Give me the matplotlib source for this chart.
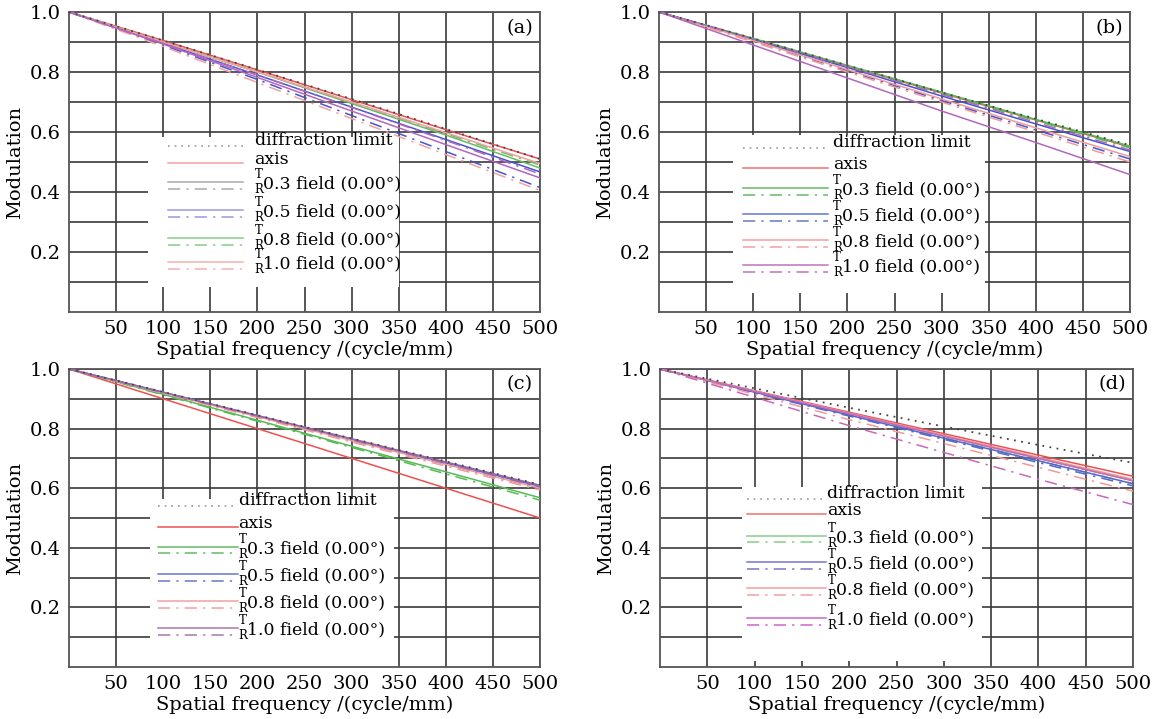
import matplotlib
matplotlib.use('Agg')
import matplotlib.pyplot as plt
from matplotlib.patches import Rectangle

plt.rcParams['font.family'] = ['DejaVu Serif']

# spatial frequency samples (cycle/mm)
freq = [0, 100, 200, 300, 400, 500]

field_names = ["0.3 field (0.00°)", "0.5 field (0.00°)", "0.8 field (0.00°)", "1.0 field (0.00°)"]

# panel (a)
a_diff = [1, 0.905, 0.808, 0.710, 0.610, 0.51]
a_axis = [1, 0.905, 0.807, 0.708, 0.608, 0.51]
a_T = [[1, 0.90, 0.80, 0.695, 0.59, 0.48],
       [1, 0.895, 0.79, 0.683, 0.575, 0.467],
       [1, 0.90, 0.80, 0.70, 0.598, 0.495],
       [1, 0.893, 0.782, 0.67, 0.558, 0.447]]
a_R = [[1, 0.90, 0.80, 0.70, 0.595, 0.49],
       [1, 0.89, 0.775, 0.655, 0.535, 0.415],
       [1, 0.885, 0.765, 0.645, 0.525, 0.405],
       [1, 0.895, 0.79, 0.682, 0.572, 0.46]]

# panel (b)
b_diff = [1, 0.912, 0.822, 0.732, 0.644, 0.556]
b_axis = [1, 0.91, 0.82, 0.73, 0.64, 0.55]
b_T = [[1, 0.912, 0.822, 0.733, 0.642, 0.553],
       [1, 0.908, 0.815, 0.72, 0.627, 0.535],
       [1, 0.905, 0.808, 0.71, 0.614, 0.518],
       [1, 0.89, 0.78, 0.67, 0.565, 0.458]]
b_R = [[1, 0.91, 0.82, 0.728, 0.638, 0.547],
       [1, 0.905, 0.805, 0.705, 0.607, 0.51],
       [1, 0.90, 0.80, 0.70, 0.60, 0.50],
       [1, 0.91, 0.818, 0.725, 0.632, 0.54]]

# panel (c)
c_diff = [1, 0.923, 0.845, 0.767, 0.69, 0.612]
c_axis = [1, 0.9, 0.8, 0.7, 0.6, 0.50]
c_T = [[1, 0.915, 0.828, 0.741, 0.655, 0.568],
       [1, 0.922, 0.843, 0.764, 0.685, 0.606],
       [1, 0.92, 0.84, 0.76, 0.68, 0.60],
       [1, 0.922, 0.844, 0.766, 0.688, 0.61]]
c_R = [[1, 0.913, 0.825, 0.737, 0.648, 0.56],
       [1, 0.92, 0.84, 0.76, 0.68, 0.60],
       [1, 0.918, 0.837, 0.755, 0.674, 0.594],
       [1, 0.921, 0.842, 0.763, 0.684, 0.605]]

# panel (d)
d_diff = [1, 0.935, 0.87, 0.807, 0.745, 0.685]
d_axis = [1, 0.927, 0.855, 0.783, 0.711, 0.64]
d_T = [[1, 0.925, 0.85, 0.775, 0.70, 0.625],
       [1, 0.922, 0.845, 0.768, 0.692, 0.615],
       [1, 0.926, 0.852, 0.778, 0.704, 0.63],
       [1, 0.925, 0.85, 0.775, 0.70, 0.625]]
d_R = [[1, 0.923, 0.846, 0.769, 0.692, 0.615],
       [1, 0.92, 0.842, 0.764, 0.686, 0.608],
       [1, 0.915, 0.83, 0.75, 0.67, 0.59],
       [1, 0.905, 0.81, 0.72, 0.63, 0.545]]

x_ticks = [50, 100, 150, 200, 250, 300, 350, 400, 450, 500]
y_ticks = [0.2, 0.4, 0.6, 0.8, 1.0]

DASHDOT = (0, (8, 4, 1.5, 4))


def draw_panel(ax, diff, axis, T, R, cols, leg_cols, tag, box, leg):
    ax.set_xlim(0, 500)
    ax.set_ylim(0, 1.0)
    ax.set_xticks(x_ticks)
    ax.set_yticks(y_ticks)
    ax.set_yticks([0.1, 0.3, 0.5, 0.7, 0.9], minor=True)
    ax.set_axisbelow(True)
    ax.grid(True, which='both', color='#3a3a3a', lw=1.2)
    ax.tick_params(length=0, labelsize=14, pad=6)
    ax.tick_params(which='minor', length=0)
    for s in ax.spines.values():
        s.set_color('#555555')
        s.set_linewidth(1.3)
        s.set_zorder(2)
    ax.set_xlabel("Spatial frequency /(cycle/mm)", fontsize=14, labelpad=2)
    ax.set_ylabel("Modulation", fontsize=14)

    # white area behind the legend
    ax.add_patch(Rectangle((box[0], box[1]), box[2] - box[0], box[3] - box[1],
                           facecolor='white', edgecolor='none', zorder=1))

    ax.plot(freq, diff, color='#444444', ls=(0, (1, 3)), lw=1.3, zorder=4)
    ax.plot(freq, axis, color='#ee5050', lw=1.1, zorder=3)
    for i in range(4):
        ax.plot(freq, T[i], color=cols[i], lw=1.1, zorder=3)
        ax.plot(freq, R[i], color=cols[i], lw=1.1, ls=DASHDOT, zorder=3)

    ax.text(0.985, 0.948, tag, transform=ax.transAxes, ha='right', va='center', fontsize=14)

    # hand made legend
    x0, x1, xt, ydiff, yaxis, yrows = leg
    ax.plot([x0, x1], [ydiff, ydiff], color='#999999', ls=(0, (1, 3)), lw=1.2, zorder=5)
    ax.text(xt, ydiff + 0.018, "diffraction limit", fontsize=12.5, va='center', zorder=6)
    ax.plot([x0, x1], [yaxis, yaxis], color=leg_cols[0], lw=1.1, zorder=5)
    ax.text(xt, yaxis + 0.012, "axis", fontsize=12.5, va='center', zorder=6)
    for i in range(4):
        yT = yrows[i]
        yR = yT - 0.022
        ax.plot([x0, x1], [yT, yT], color=leg_cols[i + 1], lw=1.1, zorder=5)
        ax.plot([x0, x1], [yR, yR], color=leg_cols[i + 1], lw=1.1, ls=DASHDOT, zorder=5)
        ax.text(xt, yT + 0.026, "T", fontsize=8.5, va='center', zorder=6)
        ax.text(xt, yR - 0.004, "R", fontsize=8.5, va='center', zorder=6)
        ax.text(xt + 9, (yT + yR) / 2 + 0.004, field_names[i], fontsize=12.5,
                va='center', zorder=6)


fig = plt.figure(figsize=(11.69, 7.19), dpi=100)
fig.patch.set_facecolor('white')

W = 1169.0
H = 719.0
ax_a = fig.add_axes([69 / W, 1 - 312 / H, 471 / W, 300 / H])
ax_b = fig.add_axes([659 / W, 1 - 312 / H, 471 / W, 300 / H])
ax_c = fig.add_axes([69 / W, 1 - 667 / H, 471 / W, 298 / H])
ax_d = fig.add_axes([660 / W, 1 - 667 / H, 473 / W, 298 / H])

draw_panel(ax_a, a_diff, a_axis, a_T, a_R,
           ['#66bb66', '#4455cc', '#f4a0a0', '#b366c0'],
           ['#f4a0a0', '#aaaaaa', '#9999dd', '#88cc88', '#f4b0b0'],
           "(a)", (84, 0.085, 350, 0.585),
           (105, 185, 197, 0.553, 0.497, [0.433, 0.34, 0.247, 0.167]))
draw_panel(ax_b, b_diff, b_axis, b_T, b_R,
           ['#55bb55', '#4455cc', '#f09a9a', '#b366c0'],
           ['#f07070', '#66bb66', '#6677cc', '#f4a0a0', '#bb77bb'],
           "(b)", (79, 0.065, 346, 0.59),
           (89, 179, 185, 0.547, 0.48, [0.413, 0.327, 0.24, 0.157]))
draw_panel(ax_c, c_diff, c_axis, c_T, c_R,
           ['#55bb55', '#5566cc', '#f09a9a', '#9966aa'],
           ['#f05050', '#66bb66', '#6677cc', '#f4a0a0', '#aa77aa'],
           "(c)", (86, 0.0, 345, 0.565),
           (94, 179, 180, 0.54, 0.47, [0.403, 0.312, 0.221, 0.131]))
draw_panel(ax_d, d_diff, d_axis, d_T, d_R,
           ['#66bb66', '#5566cc', '#f09a9a', '#cc66bb'],
           ['#f07070', '#88cc88', '#7777cc', '#f4a0a0', '#cc66cc'],
           "(d)", (87, 0.02, 340, 0.605),
           (92, 175, 177, 0.564, 0.513, [0.44, 0.352, 0.265, 0.164]))

fig.savefig('out.png', dpi=100, facecolor='white')
